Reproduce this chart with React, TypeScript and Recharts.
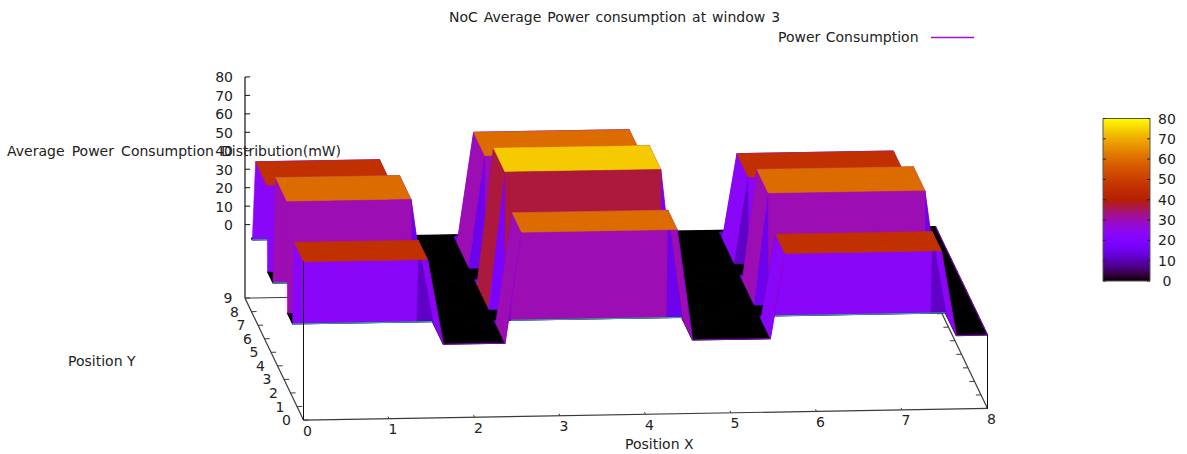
import { Bar, BarChart, Scatter, ScatterChart, XAxis, YAxis } from "recharts";

// block power per row
const powerFront = [46, 60, 46];
const powerMiddle = [60, 74, 60];
const powerBack = [46, 60, 46];

// surface grid lines, every block rises and falls between neighbouring lines
const gridX = [0, 1.45, 1.635, 2.357, 2.55, 4.37, 4.55, 5.46, 5.63, 7.46, 7.634, 8];
const gridY = [0, 1.43, 1.67, 2.48, 2.52, 4.3, 4.69, 5.53, 5.6, 7.37, 7.87, 8];
const blockAtX = [0, 0, -1, -1, 1, 1, -1, -1, 2, 2, -1, -1];
const rowAtY = [powerFront, powerFront, null, null, powerMiddle, powerMiddle, null, null, powerBack, powerBack, null, null];

const xTicks = [0, 1, 2, 3, 4, 5, 6, 7, 8];
const yTicks = [0, 1, 2, 3, 4, 5, 6, 7, 8, 9];
const zTicks = [0, 10, 20, 30, 40, 50, 60, 70, 80];
const colorTicks = [0, 10, 20, 30, 40, 50, 60, 70, 80];

const seamSpans = [[0, 1.635], [2.55, 4.55], [5.63, 7.634]];
const seamRows = [1.67, 4.69, 7.87];
const frontEdges = [[1.45, 1.635, 2.357, 2.55], [4.37, 4.55, 5.46, 5.63], [7.46, 7.634, 8]];
const backEdges = [[0, 1.45], [2.55, 4.37], [5.63, 7.46]];

const BASE_Z = -39.8;
const WIDTH = 1187;
const HEIGHT = 454;
const FONT = "'DejaVu Sans', sans-serif";
const TEXT = "#222";
const AXIS = "#3a3a3a";

type Pt = { h: number; v: number; label?: string };

// fixed gnuplot-like view, data (x, y, z) to the flat plane of the chart
function project(x: number, y: number, z: number): Pt {
  return {
    h: 303.5 + 85.5 * x - 6.5 * y,
    v: 346.6 - 1.45 * x - 13.55 * y - 1.846 * z,
  };
}

// gnuplot rgbformulae 7,5,15
function palette(value: number) {
  const g = Math.min(1, Math.max(0, value / 80));
  const r = Math.round(255 * Math.sqrt(g));
  const gr = Math.round(255 * g * g * g);
  const b = Math.round(255 * Math.max(0, Math.sin(2 * Math.PI * g)));
  return `rgb(${r},${gr},${b})`;
}

function heightAt(i: number, j: number) {
  const row = rowAtY[j];
  return row && blockAtX[i] >= 0 ? row[blockAtX[i]] : 0;
}

type Layer = { pts: Pt[]; fill?: string; stroke: string; width: number };

const layers: Layer[] = [];

function addLine(pts: Pt[], stroke: string, width: number) {
  layers.push({ pts, stroke, width });
}

function cellCorners(i: number, j: number) {
  return [
    [i, j],
    [i + 1, j],
    [i + 1, j + 1],
    [i, j + 1],
  ];
}

function cellMean(i: number, j: number) {
  return cellCorners(i, j).reduce((sum, [a, b]) => sum + heightAt(a, b), 0) / 4;
}

// box behind the surface
addLine([project(0, 0, BASE_Z), project(8, 0, BASE_Z)], AXIS, 1.2);
addLine([project(0, 0, BASE_Z), project(0, 9, BASE_Z)], AXIS, 1.2);
addLine([project(8, 0, BASE_Z), project(8, 9, BASE_Z)], AXIS, 1.2);
addLine([project(0, 9, BASE_Z), project(8, 9, BASE_Z)], AXIS, 1);
addLine([project(0, 9, BASE_Z), project(0, 9, 80)], "#111", 1.2);
xTicks.forEach((x) => addLine([project(x, 0, BASE_Z), project(x, 0.15, BASE_Z)], AXIS, 1));
yTicks.forEach((y) => {
  addLine([project(0, y, BASE_Z), project(0.06, y, BASE_Z)], AXIS, 1);
  addLine([project(8, y, BASE_Z), project(7.94, y, BASE_Z)], AXIS, 1);
});
zTicks.forEach((z) => addLine([project(0, 9, z), project(0.06, 9, z)], "#111", 1));

// flat floor first: it can never hide a raised cell
for (let j = gridY.length - 2; j >= 0; j--) {
  for (let i = 0; i < gridX.length - 1; i++) {
    if (cellMean(i, j) === 0) {
      layers.push({
        pts: cellCorners(i, j).map(([a, b]) => project(gridX[a], gridY[b], 0)),
        fill: palette(0),
        stroke: palette(0),
        width: 1.2,
      });
    }
  }
}

// thin surface line behind the top of the back row
backEdges.forEach(([a, b], n) => addLine([project(a, gridY[9], powerBack[n]), project(b, gridY[9], powerBack[n])], "#a030d8", 1));

// raised cells, back row first, inside a row the walls go under the tops
for (let j = gridY.length - 2; j >= 0; j--) {
  const cols = gridX
    .slice(1)
    .map((_, i) => i)
    .filter((i) => cellMean(i, j) > 0)
    .sort((a, b) => cellMean(a, j) - cellMean(b, j));
  cols.forEach((i) => {
    const color = palette(cellMean(i, j));
    layers.push({
      pts: cellCorners(i, j).map(([a, b]) => project(gridX[a], gridY[b], heightAt(a, b))),
      fill: color,
      stroke: color,
      width: 0.6,
    });
  });
  const seam = gridY[j + 1];
  if (seamRows.includes(seam)) {
    seamSpans.forEach(([a, b]) => addLine([project(a, seam, 0), project(b, seam, 0)], "#27b39a", 1));
  }
}

// thin surface line along the open edges
frontEdges.forEach((edge) => {
  const pts = edge.map((x) => project(x, 0, heightAt(gridX.indexOf(x), 0)));
  addLine(pts, "#9400d3", 1);
});
addLine([project(8, 0, 0), project(8, 8, 0)], "#9400d3", 1);

// verticals at the front corners go over the surface
addLine([project(0, 0, powerFront[0]), project(0, 0, BASE_Z)], "#111", 1);
addLine([project(8, 0, 0), project(8, 0, BASE_Z)], "#111", 1);

const xLabels: Pt[] = xTicks.map((x) => {
  const p = project(x, 0, BASE_Z);
  return { h: p.h + 4, v: p.v + 10.5, label: String(x) };
});
const yLabels: Pt[] = yTicks.map((y) => {
  const p = project(0, y, BASE_Z);
  return { h: p.h - 17, v: p.v, label: String(y) };
});
const zLabels: Pt[] = zTicks.map((z) => {
  const p = project(0, 9, z);
  return { h: p.h - 12, v: p.v + 0.5, label: String(z) };
});

const NoMark = () => <g />;

function Outline(props: any) {
  const pts = (props.points as { x: number; y: number }[]).map((p) => `${p.x},${p.y}`).join(" ");
  if (props.closed) {
    return <polygon points={pts} fill={props.shade} stroke={props.edge} strokeWidth={props.edgeWidth} strokeLinejoin="round" />;
  }
  return <polyline points={pts} fill="none" stroke={props.edge} strokeWidth={props.edgeWidth} />;
}

function TickText(anchor: "middle" | "end") {
  return (p: any) => (
    <text x={p.cx} y={p.cy} textAnchor={anchor} dominantBaseline="central" fontFamily={FONT} fontSize={14} fill={TEXT}>
      {p.payload?.label ?? p.label}
    </text>
  );
}

function ColorTick({ x, y, payload }: any) {
  return (
    <g>
      <line x1={x - 47} x2={x - 44} y1={y} y2={y} stroke="#222" />
      <line x1={x - 3} x2={x} y1={y} y2={y} stroke="#222" />
      <text x={x + 17} y={y} textAnchor="middle" dominantBaseline="central" fontFamily={FONT} fontSize={14} fill={TEXT}>
        {payload.value}
      </text>
    </g>
  );
}

const captions = [
  { text: "NoC Average Power consumption at window 3", left: 449, top: 17, gap: 1.5 },
  { text: "Power Consumption", left: 778, top: 37, gap: 1 },
  { text: "Average Power Consumption Distribution(mW)", left: 7, top: 151, gap: 2.7 },
  { text: "Position Y", left: 68, top: 361, gap: 0 },
  { text: "Position X", left: 625, top: 444, gap: 0 },
];

const colorStops = Array.from({ length: 41 }, (_, n) => n * 2);

export default function App() {
  return (
    <div style={{ position: "absolute", left: 0, top: 0, width: WIDTH, height: HEIGHT, background: "#fff", overflow: "hidden" }}>
      <ScatterChart width={WIDTH} height={HEIGHT} margin={{ top: 0, right: 0, bottom: 0, left: 0 }} style={{ position: "absolute", left: 0, top: 0 }}>
        <XAxis type="number" dataKey="h" domain={[0, WIDTH]} hide />
        <YAxis type="number" dataKey="v" domain={[0, HEIGHT]} reversed hide />
        {layers.map((layer, n) => (
          <Scatter
            key={n}
            data={layer.pts}
            isAnimationActive={false}
            shape={NoMark}
            line={(lineProps: any) => (
              <Outline points={lineProps.points} closed={Boolean(layer.fill)} shade={layer.fill} edge={layer.stroke} edgeWidth={layer.width} />
            )}
          />
        ))}
        <Scatter data={xLabels} isAnimationActive={false} shape={TickText("middle")} />
        <Scatter data={yLabels} isAnimationActive={false} shape={TickText("middle")} />
        <Scatter data={zLabels} isAnimationActive={false} shape={TickText("end")} />
      </ScatterChart>

      <BarChart
        width={WIDTH}
        height={HEIGHT}
        data={[{ name: "scale", value: 80 }]}
        barCategoryGap={0}
        margin={{ top: 118.5, right: 0, bottom: 173, left: 1103 }}
        style={{ position: "absolute", left: 0, top: 0 }}
      >
        <defs>
          <linearGradient id="colorbarFill" x1="0" y1="1" x2="0" y2="0">
            {colorStops.map((value) => (
              <stop key={value} offset={value / 80} stopColor={palette(value)} />
            ))}
          </linearGradient>
        </defs>
        <XAxis dataKey="name" hide />
        <YAxis
          orientation="right"
          width={37}
          domain={[0, 80]}
          ticks={colorTicks}
          axisLine={false}
          tickLine={false}
          tickSize={0}
          tickMargin={0}
          tick={ColorTick}
          interval={0}
        />
        <Bar dataKey="value" fill="url(#colorbarFill)" stroke="#555" strokeWidth={1} isAnimationActive={false} />
      </BarChart>

      {/* legend sample */}
      <svg width={WIDTH} height={HEIGHT} style={{ position: "absolute", left: 0, top: 0, pointerEvents: "none" }}>
        <line x1={931} x2={974} y1={37.5} y2={37.5} stroke="#a010e8" strokeWidth={1.3} />
      </svg>
      {captions.map((c) => (
        <div
          key={c.text}
          style={{
            position: "absolute",
            left: c.left,
            top: c.top,
            transform: "translateY(-50%)",
            fontFamily: FONT,
            fontSize: 14,
            wordSpacing: c.gap,
            color: TEXT,
            whiteSpace: "nowrap",
          }}
        >
          {c.text}
        </div>
      ))}
    </div>
  );
}
